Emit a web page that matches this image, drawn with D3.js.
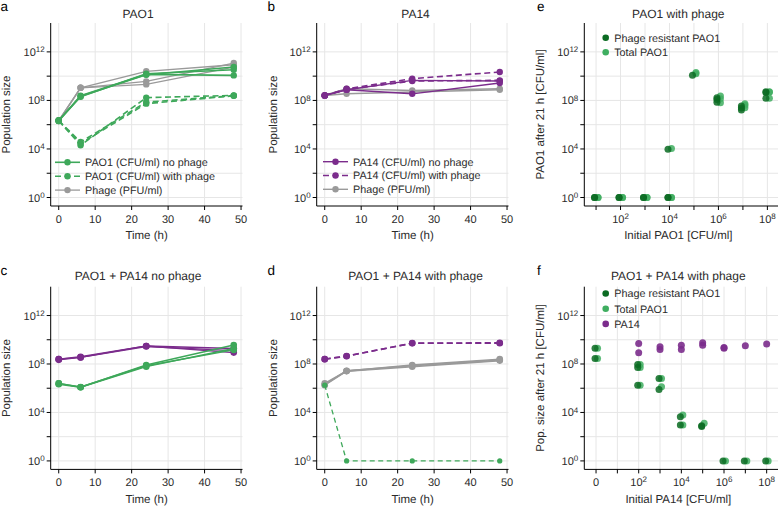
<!DOCTYPE html>
<html><head><meta charset="utf-8">
<script src="https://cdn.jsdelivr.net/npm/d3@7"></script>
<style>
body{margin:0;background:#fff;}
svg{display:block;font-family:"Liberation Sans",Arial,Helvetica,sans-serif;text-rendering:geometricPrecision;}
text{font-weight:normal;}
</style></head><body>
<svg id="chart" width="778" height="508"></svg>
<script>
// ---------------- DATA ----------------
const timeH = [0, 6, 24, 48];
const timeTicks = [0, 10, 20, 30, 40, 50];
const popTicks = [1, 1e2, 1e4, 1e6, 1e8, 1e10, 1e12];
const popLabelled = [1, 1e4, 1e8, 1e12];

// Panel a: PAO1 alone (three replicates each)
const aPAO1NoPhage = [[2.2e6, 2.0e8, 1.6e10, 3.4e10], [2.2e6, 2.5e8, 1.4e10, 1.15e10], [2.0e6, 2.2e8, 1.3e10, 5.6e10]];
const aPAO1WithPhage = [[2.2e6, 2.0e4, 1.7e8, 2.6e8], [2.2e6, 3.7e4, 7.2e7, 2.5e8], [2.0e6, 2.8e4, 5.4e7, 2.4e8]];
const aPhage = [[2.2e6, 1.1e9, 2.5e10, 8.7e10], [2.2e6, 1.1e9, 3.7e9, 1.2e11], [2.0e6, 1.1e9, 2.1e9, 5.6e10]];

// Panel b: PA14 alone
const bPA14NoPhage = [[2.6e8, 7.6e8, 4.5e9, 4.0e9], [2.6e8, 7.6e8, 3.5e8, 2.7e9]];
const bPA14WithPhage = [[2.6e8, 9.1e8, 6.2e9, 2.2e10], [2.6e8, 7.9e8, 4.0e9, 4.5e9]];
const bPhage = [[2.6e8, 9.1e8, 6.6e8, 9.1e8], [2.6e8, 3.5e8, 4.9e8, 7.6e8]];

// Panel c: PAO1 + PA14 no phage
const cPA14 = [[2.5e8, 3.5e8, 3.1e9, 1.9e9], [2.5e8, 4.0e8, 3.1e9, 8.7e8], [2.2e8, 3.5e8, 2.8e9, 1.26e9]];
const cPAO1 = [[2.5e6, 1.2e6, 8.3e7, 3.7e9], [2.1e6, 1.2e6, 6.0e7, 1.9e9], [2.5e6, 1.26e6, 7.1e7, 1.45e9]];

// Panel d: PAO1 + PA14 with phage
const dPA14 = [[2.5e8, 4.6e8, 5.1e9, 5.1e9], [2.5e8, 4.4e8, 5.3e9, 5.6e9]];
const dPhage = [[2.5e6, 2.6e7, 6.0e7, 1.9e8], [1.8e6, 2.6e7, 8.3e7, 2.5e8], [2.0e6, 2.8e7, 7.1e7, 2.1e8]];
const dPAO1 = [[1.8e6, 1, 1, 1]];

// Panel e: PAO1 with phage, after 21 h
const eInitialTicks = [1e1, 1e2, 1e3, 1e4, 1e5, 1e6, 1e7, 1e8];
const eInitialLabelled = [1e2, 1e4, 1e6, 1e8];
const eResistant = [
  [1e1, 1], [1e1, 1], [1e2, 1], [1e2, 1], [1e3, 1], [1e3, 1], [1e4, 1], [1e4, 1], [1e4, 9.3e3],
  [1e5, 1.2e10], [1e6, 1.66e8], [1e6, 1.2e8], [1e6, 7.2e7], [1e7, 3.4e7], [1e7, 2.4e7], [1e7, 1.6e7],
  [1e8, 5.2e8], [1e8, 4.5e8], [1e8, 1.5e8]];
const eTotal = [
  [1e1, 1], [1e1, 1], [1e2, 1], [1e2, 1], [1e3, 1], [1e3, 1], [1e4, 1], [1e4, 1], [1e4, 1.1e4],
  [1e5, 1.6e10], [1e5, 2.0e10], [1e6, 2.3e8], [1e6, 1.4e8], [1e6, 6.3e7], [1e7, 5.2e7], [1e7, 4.0e7], [1e7, 2.5e7],
  [1e8, 5.2e8], [1e8, 4.8e8], [1e8, 1.5e8]];

// Panel f: PAO1 + PA14 with phage, after 21 h
const fInitialCats = ["0", "1e1", "1e2", "1e3", "1e4", "1e5", "1e6", "1e7", "1e8"];
const fInitialLabels = [["0", "0", ""], ["1e2", "10", "2"], ["1e4", "10", "4"], ["1e6", "10", "6"], ["1e8", "10", "8"]];
const fResistant = [
  ["0", 1.95e9], ["0", 2.9e8], ["1e2", 9.3e7], ["1e2", 5.2e7], ["1e2", 1.8e6],
  ["1e3", 6.5e6], ["1e3", 7.9e5], ["1e4", 4.5e3], ["1e4", 9.3e2], ["1e5", 6.8e2], ["1e5", 7.9e2],
  ["1e6", 1], ["1e7", 1], ["1e8", 1]];
const fTotal = [
  ["0", 1.95e9], ["0", 2.9e8], ["1e2", 9.3e7], ["1e2", 5.2e7], ["1e2", 1.8e6],
  ["1e3", 6.5e6], ["1e3", 1.35e6], ["1e4", 6.2e3], ["1e4", 9.3e2], ["1e5", 1.26e3],
  ["1e6", 1], ["1e7", 1], ["1e8", 1]];
const fPA14 = [
  ["1e2", 5.0e9], ["1e2", 8.5e8], ["1e3", 2.6e9], ["1e3", 1.6e9], ["1e4", 3.6e9], ["1e4", 1.6e9],
  ["1e5", 5.6e9], ["1e5", 3.6e9], ["1e6", 2.3e9], ["1e6", 2.0e9], ["1e7", 3.2e9], ["1e8", 4.4e9]];

// ---------------- STYLE / LAYOUT ----------------
const COL = {green: "#3ea85a", dark: "#0b6b22", light: "#3fae60", purple: "#7b2c8c", gray: "#9a9a9a", grid: "#e6e6e6", text: "#2b2b2b"};
const rows = {
  top: {top: 23, bottom: 206, titleY: 17.5, letterY: 11, tickY: 222.5, xTitleY: 238.5},
  bot: {top: 286.7, bottom: 469.4, titleY: 279.5, letterY: 275, tickY: 486, xTitleY: 502.5}
};
const cols = {
  a: {left: 50.7, right: 242.5, titleX: 138, letterX: 0.5, yTitleX: 9.5},
  b: {left: 316.7, right: 508.5, titleX: 415.5, letterX: 267.5, yTitleX: 276.5},
  c: {left: 584.3, right: 778.4, titleX: 678.3, letterX: 537, yTitleX: 544}
};
const svg = d3.select("#chart");

function yScaleFor(row) {
  return d3.scaleLog().domain([Math.pow(10, -0.7), Math.pow(10, 14.38)]).range([row.bottom, row.top]);
}

function supText(sel, base, exp) {
  sel.append("tspan").text(base);
  if (exp) sel.append("tspan").attr("dy", "-0.45em").attr("font-size", "8px").text(exp);
}

function frame(opt) {
  const {row, col, y, xPos, xTicks} = opt;
  const g = svg.append("g");
  g.selectAll(null).data(popTicks).join("line")
    .attr("x1", col.left).attr("x2", col.right)
    .attr("y1", d => y(d)).attr("y2", d => y(d))
    .attr("stroke", COL.grid).attr("stroke-width", 1);
  g.selectAll(null).data(xTicks).join("line")
    .attr("x1", d => xPos(d)).attr("x2", d => xPos(d))
    .attr("y1", row.top).attr("y2", row.bottom)
    .attr("stroke", COL.grid).attr("stroke-width", 1);
  return g;
}

function axes(opt) {
  const {row, col, y, xPos, xTicks, xLabels, title, letter, xTitle, yTitle} = opt;
  const g = svg.append("g").attr("fill", COL.text);
  g.append("line").attr("x1", col.left).attr("x2", col.left).attr("y1", row.top).attr("y2", row.bottom)
    .attr("stroke", "#000").attr("stroke-width", 1);
  g.append("line").attr("x1", col.left).attr("x2", col.right).attr("y1", row.bottom).attr("y2", row.bottom)
    .attr("stroke", "#000").attr("stroke-width", 1);
  g.selectAll(null).data(popTicks).join("line")
    .attr("x1", col.left - 4).attr("x2", col.left)
    .attr("y1", d => y(d)).attr("y2", d => y(d)).attr("stroke", "#000");
  g.selectAll(null).data(popLabelled).join("text")
    .attr("x", col.left - 6).attr("y", d => y(d) + 4)
    .attr("text-anchor", "end").attr("font-size", "11px")
    .each(function (d) { supText(d3.select(this), "10", String(Math.round(Math.log10(d)))); });
  g.selectAll(null).data(xTicks).join("line")
    .attr("x1", d => xPos(d)).attr("x2", d => xPos(d))
    .attr("y1", row.bottom).attr("y2", row.bottom + 4).attr("stroke", "#000");
  g.selectAll(null).data(xLabels).join("text")
    .attr("x", d => xPos(d[0])).attr("y", row.tickY)
    .attr("text-anchor", "middle").attr("font-size", "11px")
    .each(function (d) { supText(d3.select(this), d[1], d[2]); });
  g.append("text").attr("x", col.titleX).attr("y", row.titleY).attr("text-anchor", "middle")
    .attr("font-size", "12px").text(title);
  g.append("text").attr("x", col.letterX).attr("y", row.letterY).attr("font-size", "13.5px")
    .attr("font-weight", "bold").attr("fill", "#000").text(letter);
  g.append("text").attr("x", (col.left + col.right) / 2 + (opt.xTitleShift || 0)).attr("y", row.xTitleY)
    .attr("text-anchor", "middle").attr("font-size", "11.5px").text(xTitle);
  g.append("text").attr("transform", `translate(${col.yTitleX},${(row.top + row.bottom) / 2}) rotate(-90)`)
    .attr("text-anchor", "middle").attr("font-size", "11.5px").text(yTitle);
}

function drawSeries(g, x, y, reps, color, dash, width, r) {
  const line = d3.line().x((d, i) => x(timeH[i])).y(d => y(d));
  reps.forEach(rep => {
    g.append("path").attr("d", line(rep)).attr("fill", "none").attr("stroke", color)
      .attr("stroke-width", width).attr("stroke-dasharray", dash || null);
    g.selectAll(null).data(rep).join("circle")
      .attr("cx", (d, i) => x(timeH[i])).attr("cy", d => y(d)).attr("r", r).attr("fill", color);
  });
}

function legendLines(items, x0, y0, step) {
  const g = svg.append("g");
  items.forEach((it, i) => {
    const yy = y0 + i * step;
    g.append("line").attr("x1", x0).attr("x2", x0 + 25).attr("y1", yy).attr("y2", yy)
      .attr("stroke", it.color).attr("stroke-width", it.width).attr("stroke-dasharray", it.dash || null);
    g.append("circle").attr("cx", x0 + 12.5).attr("cy", yy).attr("r", 3.2).attr("fill", it.color);
    g.append("text").attr("x", x0 + 30).attr("y", yy + 3.8).attr("font-size", "10.8px").attr("fill", COL.text).text(it.label);
  });
}

function legendDots(items, x0, y0, step) {
  const g = svg.append("g");
  items.forEach((it, i) => {
    const yy = y0 + i * step;
    g.append("circle").attr("cx", x0).attr("cy", yy).attr("r", 3.3).attr("fill", it.color);
    g.append("text").attr("x", x0 + 8.5).attr("y", yy + 3.8).attr("font-size", "10.8px").attr("fill", COL.text).text(it.label);
  });
}

const timeLabels = timeTicks.map(t => [t, String(t), ""]);

// ---------------- TIME PANELS ----------------
function timePanel(row, col, title, letter, seriesList) {
  const x = d3.scaleLinear().domain([-2.2, 50.4]).range([col.left, col.right]);
  const y = yScaleFor(row);
  const opt = {row, col, y, xPos: x, xTicks: timeTicks, xLabels: timeLabels, title, letter,
    xTitle: "Time (h)", yTitle: "Population size"};
  frame(opt);
  const g = svg.append("g");
  seriesList.forEach(s => drawSeries(g, x, y, s.reps, s.color, s.dash, s.width, s.r));
  axes(opt);
}

timePanel(rows.top, cols.a, "PAO1", "a", [
  {reps: aPhage, color: COL.gray, width: 1.3, r: 3.2},
  {reps: aPAO1WithPhage, color: COL.green, dash: "6,3.5", width: 1.6, r: 3.2},
  {reps: aPAO1NoPhage, color: COL.green, width: 1.6, r: 3.2}
]);
legendLines([
  {color: COL.green, width: 1.6, label: "PAO1 (CFU/ml) no phage"},
  {color: COL.green, width: 1.6, dash: "6,3.5", label: "PAO1 (CFU/ml) with phage"},
  {color: COL.gray, width: 1.3, label: "Phage (PFU/ml)"}
], 55, 162.3, 13.9);

timePanel(rows.top, cols.b, "PA14", "b", [
  {reps: bPhage, color: COL.gray, width: 1.6, r: 3.2},
  {reps: bPA14WithPhage, color: COL.purple, dash: "6,3.5", width: 1.6, r: 3.2},
  {reps: bPA14NoPhage, color: COL.purple, width: 1.4, r: 3.2}
]);
legendLines([
  {color: COL.purple, width: 1.4, label: "PA14 (CFU/ml) no phage"},
  {color: COL.purple, width: 1.6, dash: "6,3.5", label: "PA14 (CFU/ml) with phage"},
  {color: COL.gray, width: 1.4, label: "Phage (PFU/ml)"}
], 323, 161.7, 13.8);

timePanel(rows.bot, cols.a, "PAO1 + PA14 no phage", "c", [
  {reps: cPA14, color: COL.purple, width: 1.4, r: 3.3},
  {reps: cPAO1, color: COL.green, width: 1.4, r: 3.3}
]);

timePanel(rows.bot, cols.b, "PAO1 + PA14 with phage", "d", [
  {reps: dPhage, color: COL.gray, width: 1.6, r: 3.3},
  {reps: dPA14, color: COL.purple, dash: "6,3.5", width: 1.6, r: 3.3},
  {reps: dPAO1, color: COL.green, dash: "5,3.5", width: 1.3, r: 2.6}
]);

// ---------------- PANEL E ----------------
(function () {
  const row = rows.top, col = cols.c;
  const x = d3.scaleLog().domain([Math.pow(10, 0.52), Math.pow(10, 8.45)]).range([col.left, col.right]);
  const y = yScaleFor(row);
  const opt = {row, col, y, xPos: x, xTicks: eInitialTicks,
    xLabels: eInitialLabelled.map(v => [v, "10", String(Math.round(Math.log10(v)))]),
    title: "PAO1 with phage", letter: "e", xTitle: "Initial PAO1 [CFU/ml]", yTitle: "PAO1 after 21 h [CFU/ml]", xTitleShift: -3};
  frame(opt);
  const g = svg.append("g");
  g.selectAll(null).data(eTotal).join("circle")
    .attr("cx", d => x(d[0]) + 2).attr("cy", d => y(d[1])).attr("r", 3.5)
    .attr("fill", COL.light).attr("fill-opacity", 0.85);
  g.selectAll(null).data(eResistant).join("circle")
    .attr("cx", d => x(d[0]) - 1.5).attr("cy", d => y(d[1])).attr("r", 3.5)
    .attr("fill", COL.dark).attr("fill-opacity", 0.85);
  axes(opt);
  legendDots([{color: COL.dark, label: "Phage resistant PAO1"}, {color: COL.light, label: "Total PAO1"}], 605.7, 37.7, 14.6);
})();

// ---------------- PANEL F ----------------
(function () {
  const row = rows.bot, col = cols.c;
  const x = d3.scalePoint().domain(fInitialCats).range([col.left, col.right]).padding(0.55);
  const y = yScaleFor(row);
  const opt = {row, col, y, xPos: x, xTicks: fInitialCats, xLabels: fInitialLabels,
    title: "PAO1 + PA14 with phage", letter: "f", xTitle: "Initial PA14 [CFU/ml]", yTitle: "Pop. size after 21 h [CFU/ml]", xTitleShift: -3};
  frame(opt);
  const g = svg.append("g");
  g.selectAll(null).data(fPA14).join("circle")
    .attr("cx", d => x(d[0])).attr("cy", d => y(d[1])).attr("r", 3.5)
    .attr("fill", COL.purple).attr("fill-opacity", 0.9);
  g.selectAll(null).data(fTotal).join("circle")
    .attr("cx", d => x(d[0]) + 1.5).attr("cy", d => y(d[1])).attr("r", 3.5)
    .attr("fill", COL.light).attr("fill-opacity", 0.85);
  g.selectAll(null).data(fResistant).join("circle")
    .attr("cx", d => x(d[0]) - 1).attr("cy", d => y(d[1])).attr("r", 3.5)
    .attr("fill", COL.dark).attr("fill-opacity", 0.85);
  axes(opt);
  legendDots([{color: COL.dark, label: "Phage resistant PAO1"}, {color: COL.light, label: "Total PAO1"},
    {color: COL.purple, label: "PA14"}], 605.7, 293.5, 15.2);
})();
</script>
</body></html>
